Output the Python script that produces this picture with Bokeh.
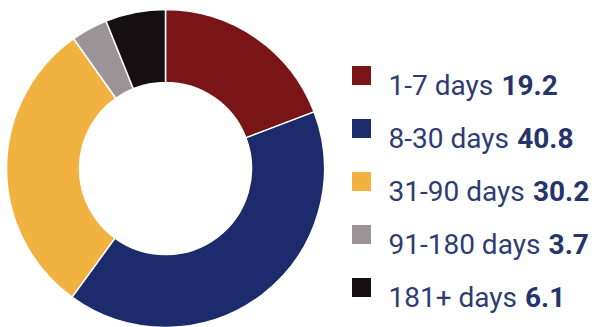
import numpy as np
from bokeh.plotting import figure
from bokeh.models import ColumnDataSource, Range1d
from bokeh.core.properties import value
from bokeh.embed import file_html
from bokeh.resources import INLINE

categories = ["1-7 days", "8-30 days", "31-90 days", "91-180 days", "181+ days"]
values = [19.2, 40.8, 30.2, 3.7, 6.1]
colors = ["#7A1517", "#1C2B6C", "#F2B23F", "#9A9496", "#150F11"]

W, H = 592, 327
p = figure(width=W, height=H, x_range=Range1d(0, W), y_range=Range1d(0, H),
           output_backend="svg", toolbar_location=None, min_border=0)
p.axis.visible = False
p.grid.visible = False
p.outline_line_color = None
p.background_fill_color = "white"
p.border_fill_color = "white"

vals = np.array(values, dtype=float)
frac = vals / vals.sum()
cum = np.concatenate([[0.0], np.cumsum(frac)])
start = np.pi / 2 - 2 * np.pi * cum[:-1]
end = np.pi / 2 - 2 * np.pi * cum[1:]

cx, cy = 165, H - 168
src = ColumnDataSource(dict(start=start, end=end, color=colors))
p.annular_wedge(x=cx, y=cy, inner_radius=86, outer_radius=159,
                start_angle="start", end_angle="end", direction="clock",
                fill_color="color", line_color="white", line_width=1.5, source=src)

# legend
fs = 28
reg = {"0": 1150, "1": 1150, "2": 1150, "3": 1150, "4": 1150, "5": 1150, "6": 1150,
       "7": 1150, "8": 1150, "9": 1150, "-": 565, " ": 508, "+": 1135, "d": 1120,
       "a": 1088, "y": 969, "s": 1057}
def width(s):
    return sum(reg.get(c, 1100) for c in s) / 2048 * fs

row0, gap = 75, 53
ys = [H - (row0 + i * gap) for i in range(len(categories))]
tx = 388
labels = [c + " " for c in categories]
nums = [f"{v:.1f}" for v in values]
nx = [tx + width(l) + 2 for l in labels]

leg = ColumnDataSource(dict(y=ys, yb=[y - 9.5 for y in ys], color=colors,
                            label=labels, num=nums, nx=nx))
p.rect(x=361, y="y", width=19, height=19, fill_color="color", line_color=None, source=leg)
p.text(x=tx, y="yb", text="label", text_font=value("Roboto"), text_font_size=f"{fs}px",
       text_color="#2E3C72", text_baseline="alphabetic", source=leg)
p.text(x="nx", y="yb", text="num", text_font=value("Roboto"), text_font_size=f"{fs}px",
       text_font_style="bold", text_color="#25346B", text_baseline="alphabetic", source=leg)

open("out.html", "w").write(file_html(p, INLINE))
